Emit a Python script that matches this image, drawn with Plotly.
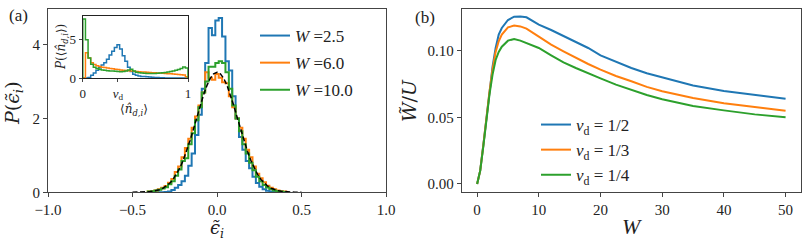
import plotly.graph_objects as go

# ---------------- data: panel (a) main histograms (bin centres -0.40..0.40, width 0.02)
eps_centers = [round(-0.40 + 0.02 * k, 2) for k in range(41)]
hist_W25 = [0, 0, 0, 0, 0, 0.005, 0.02, 0.06, 0.12, 0.2, 0.3, 0.45, 0.72, 1.05, 1.55, 2.1, 2.8, 3.5,
            4.45, 4.25, 4.65, 4.72, 4.22, 3.55, 3.3, 2.6, 2.0, 1.5, 1.15, 0.85, 0.65, 0.42, 0.25, 0.15,
            0.08, 0.04, 0.02, 0.005, 0, 0, 0]
hist_W60 = [0.02, 0.03, 0.05, 0.08, 0.12, 0.17, 0.26, 0.36, 0.55, 0.7, 0.95, 1.2, 1.45, 1.75, 2.05, 2.35,
            2.7, 3.25, 3.1, 3.05, 3.2, 3.1, 2.98, 2.95, 2.6, 2.3, 2.0, 1.75, 1.45, 1.15, 0.95, 0.7, 0.5,
            0.38, 0.27, 0.18, 0.12, 0.08, 0.05, 0.03, 0.02]
hist_W100 = [0.02, 0.03, 0.05, 0.07, 0.1, 0.14, 0.22, 0.3, 0.45, 0.62, 0.85, 0.92, 1.3, 1.6, 1.95, 2.3,
             2.7, 3.0, 3.4, 3.4, 3.5, 3.55, 3.5, 3.25, 2.8, 2.35, 2.0, 1.65, 1.3, 1.05, 0.8, 0.6, 0.42,
             0.3, 0.2, 0.13, 0.09, 0.05, 0.03, 0.02, 0.01]
gauss_x = [round(-0.50 + 0.02 * k, 2) for k in range(51)]
gauss_y_half = [3.25, 3.207, 3.083, 2.885, 2.631, 2.335, 2.019, 1.700, 1.395, 1.114, 0.866, 0.656,
                0.484, 0.348, 0.244, 0.166, 0.110, 0.071, 0.045, 0.027, 0.016, 0.009, 0.005, 0.003,
                0.001, 0.001]
gauss_y = gauss_y_half[::-1] + gauss_y_half[1:]

# ---------------- data: inset histograms (bin width 0.025 on [0,1])
nd_edges = [round(0.025 * k, 3) for k in range(41)]
inset_W25 = [0, 0, 0.05, 0.35, 0.65, 1.0, 1.35, 1.7, 2.0, 2.45, 3.0, 3.5, 4.0, 4.35, 3.8, 2.9, 2.2, 1.4,
             0.85, 0.5, 0.35, 0.25, 0.2, 0.18, 0.15, 0.12, 0.1, 0.07, 0.05, 0.03, 0.02, 0.01, 0, 0, 0,
             0, 0, 0, 0, 0]
inset_W60 = [0, 3.3, 2.6, 2.0, 1.75, 1.6, 1.5, 1.42, 1.36, 1.3, 1.25, 1.2, 1.15, 1.1, 1.06, 1.02, 0.98,
             0.95, 0.92, 0.88, 0.85, 0.82, 0.8, 0.78, 0.75, 0.72, 0.7, 0.68, 0.66, 0.64, 0.62, 0.6,
             0.57, 0.54, 0.52, 0.5, 0.47, 0.43, 0.38, 0.15]
inset_W100 = [7.7, 5.0, 2.6, 1.8, 1.4, 1.25, 1.15, 1.05, 1.0, 0.95, 0.92, 0.9, 0.87, 0.85, 0.83, 0.85,
              0.9, 1.05, 1.15, 0.9, 0.75, 0.7, 0.65, 0.62, 0.6, 0.6, 0.6, 0.6, 0.62, 0.65, 0.68, 0.72,
              0.78, 0.85, 0.92, 1.0, 1.1, 1.25, 1.45, 1.3]

# ---------------- data: panel (b)
W_vals = [0, 0.5, 1, 1.5, 2, 2.5, 3, 3.5, 4, 5, 6, 7, 8, 10, 12, 14, 16, 18, 20, 22.5, 25, 27.5, 30,
          35, 40, 45, 50]
Wt_half = [0, 0.01, 0.029, 0.05, 0.07, 0.088, 0.102, 0.112, 0.117, 0.123, 0.1255, 0.1257, 0.125,
           0.1195, 0.1155, 0.111, 0.1065, 0.102, 0.0965, 0.0915, 0.087, 0.083, 0.0798, 0.0738,
           0.0697, 0.0666, 0.064]
Wt_third = [0, 0.01, 0.029, 0.05, 0.069, 0.086, 0.099, 0.107, 0.112, 0.1175, 0.1188, 0.1182, 0.1165,
            0.1105, 0.1045, 0.0995, 0.0945, 0.09, 0.0858, 0.081, 0.077, 0.0728, 0.0695, 0.0645,
            0.0606, 0.0577, 0.055]
Wt_quarter = [0, 0.01, 0.028, 0.049, 0.067, 0.082, 0.093, 0.099, 0.103, 0.1075, 0.1088, 0.1075,
              0.1055, 0.102, 0.0965, 0.0912, 0.087, 0.0828, 0.0792, 0.0745, 0.0705, 0.0668, 0.0635,
              0.0585, 0.0552, 0.0522, 0.050]

C = ["#1f77b4", "#ff7f0e", "#2ca02c"]
FONT = "Liberation Serif"
MATHFONT = "DejaVu Serif"
W, H = 810, 244


def step_outline(centers, vals, width):
    edges = [c - width / 2 for c in centers] + [centers[-1] + width / 2]
    xs = [edges[0]] + edges + [edges[-1]]
    ys = [0] + list(vals) + [vals[-1], 0]
    return xs, ys


fig = go.Figure()

# panel (a) histograms
for i, (vals, name, col) in enumerate([(hist_W25, "2.5", C[0]), (hist_W60, "6.0", C[1]),
                                       (hist_W100, "10.0", C[2])]):
    xs, ys = step_outline(eps_centers, vals, 0.02)
    fig.add_trace(go.Scatter(x=xs, y=ys, mode="lines", line=dict(color=col, width=2, shape="hv"),
                             name="<i>W</i> =" + name, xaxis="x", yaxis="y", legend="legend",
                             legendgroup="a%d" % i))
fig.add_trace(go.Scatter(x=gauss_x, y=gauss_y, mode="lines", showlegend=False,
                         line=dict(color="black", width=1.5, dash="5px,2.5px"), xaxis="x", yaxis="y"))

# inset
nd_centers = [(nd_edges[k] + nd_edges[k + 1]) / 2 for k in range(40)]
for vals, col in [(inset_W25, C[0]), (inset_W60, C[1]), (inset_W100, C[2])]:
    xs, ys = step_outline(nd_centers, vals, 0.025)
    fig.add_trace(go.Scatter(x=xs, y=ys, mode="lines", showlegend=False,
                             line=dict(color=col, width=1.5, shape="hv"), xaxis="x3", yaxis="y3"))

# panel (b)
for i, (vals, name, col) in enumerate([(Wt_half, "1/2", C[0]), (Wt_third, "1/3", C[1]),
                                       (Wt_quarter, "1/4", C[2])]):
    fig.add_trace(go.Scatter(x=W_vals, y=vals, mode="lines", line=dict(color=col, width=2),
                             name="<i>ν</i><sub>d</sub> = " + name, xaxis="x2", yaxis="y2",
                             legend="legend2", legendgroup="b%d" % i))

ax_common = dict(showgrid=False, zeroline=False, showline=True, linecolor="#444", linewidth=1,
                 mirror=True, ticks="outside", ticklen=4, tickwidth=1, tickcolor="#444",
                 automargin=False, tickfont=dict(family=FONT, size=15, color="#222"))


def px_dom_x(a, b):
    return [a / W, b / W]


def px_dom_y(top, bottom):
    return [1 - bottom / H, 1 - top / H]


fig.update_layout(
    width=W, height=H, margin=dict(l=0, r=0, t=0, b=0, autoexpand=False),
    paper_bgcolor="white", plot_bgcolor="white",
    font=dict(family=FONT, color="#222"),
    xaxis=dict(ax_common, domain=px_dom_x(48, 386), range=[-1, 1], anchor="y",
               tickvals=[-1, -0.5, 0, 0.5, 1], tickformat=".1f"),
    yaxis=dict(ax_common, domain=px_dom_y(8.7, 192.3), range=[0, 4.97], anchor="x",
               tickvals=[0, 2, 4]),
    xaxis2=dict(ax_common, domain=px_dom_x(461.7, 801), range=[-2.5, 52.5], anchor="y2",
                tickvals=[0, 10, 20, 30, 40, 50]),
    yaxis2=dict(ax_common, domain=px_dom_y(9, 192.3), range=[-0.00625, 0.13125], anchor="x2",
                tickvals=[0, 0.05, 0.10], tickformat=".2f"),
    xaxis3=dict(ax_common, domain=px_dom_x(82.5, 188), range=[-0.003, 1.0], anchor="y3",
                tickvals=[0, 1 / 3, 1], ticktext=["0", "<i>ν</i><sub>d</sub>", "1"], ticklen=3,
                tickfont=dict(family=FONT, size=13, color="#222"), linecolor="#222"),
    yaxis3=dict(ax_common, domain=px_dom_y(16, 78), range=[0, 8.1], anchor="x3",
                tickvals=[0, 5], ticklen=3, tickfont=dict(family=FONT, size=13, color="#222"),
                linecolor="#222"),
    legend=dict(x=255 / W, y=1 - 18 / H, xanchor="left", yanchor="top", bgcolor="rgba(0,0,0,0)",
                font=dict(family=FONT, size=17, color="#222"), tracegroupgap=2),
    legend2=dict(x=536 / W, y=1 - 107 / H, xanchor="left", yanchor="top", bgcolor="rgba(0,0,0,0)",
                 font=dict(family=FONT, size=17, color="#222"), tracegroupgap=0),
)

ann = [
    ("(a)", 18, 16, 17, 0, FONT),
    ("(b)", 425, 18, 17, 0, FONT),
    ("<i>P</i>(<i>ϵ̃</i><sub><i>i</i></sub>)", 13, 103, 19, -90, MATHFONT),
    ("<i>ϵ̃</i><sub><i>i</i></sub>", 217, 229, 18, 0, MATHFONT),
    ("<i>W̃</i>/<i>U</i>", 409, 101, 19, -90, MATHFONT),
    ("<i>W</i>", 632, 226, 22, 0, FONT),
    ("<i>P</i>(⟨<i>n̂</i><sub><i>d,i</i></sub>⟩)", 62, 47, 12, -90, MATHFONT),
    ("⟨<i>n̂</i><sub><i>d,i</i></sub>⟩", 134, 110, 12, 0, MATHFONT),
]
for text, x, y, size, ang, fam in ann:
    fig.add_annotation(text=text, x=x / W, y=1 - y / H, xref="paper", yref="paper",
                       showarrow=False, textangle=ang, xanchor="center", yanchor="middle",
                       font=dict(family=fam, size=size, color="#222"))

fig.write_html("out.html", config={"displayModeBar": False},
               post_script="document.body.style.margin='0';document.body.style.overflow='hidden';")
